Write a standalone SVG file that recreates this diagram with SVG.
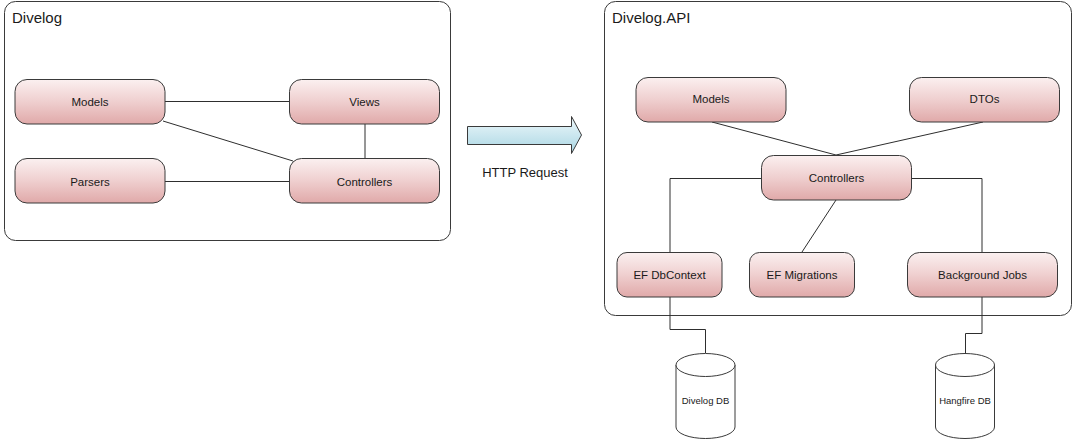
<svg xmlns="http://www.w3.org/2000/svg" width="1076" height="440" viewBox="0 0 1076 440">
  <defs>
    <linearGradient id="nodeFill" x1="0" y1="0" x2="0" y2="1">
      <stop offset="0" stop-color="#fbf0f0"/>
      <stop offset="0.5" stop-color="#efcfcf"/>
      <stop offset="1" stop-color="#e0a9a9"/>
    </linearGradient>
    <linearGradient id="arrowFill" x1="0" y1="0" x2="0" y2="1">
      <stop offset="0" stop-color="#eef8fb"/>
      <stop offset="1" stop-color="#a9d6e3"/>
    </linearGradient>
    <style>
      .frame { fill: #ffffff; stroke: #3a3a3a; stroke-width: 1; }
      .node rect { fill: url(#nodeFill); stroke: #3a3a3a; stroke-width: 1; }
      .node text { font-family: "Liberation Sans", Arial, sans-serif; font-size: 11.5px; fill: #1a1a1a; text-anchor: middle; }
      .label { font-family: "Liberation Sans", Arial, sans-serif; font-size: 13px; fill: #1a1a1a; text-anchor: middle; }
      .title { font-family: "Liberation Sans", Arial, sans-serif; font-size: 15px; fill: #1a1a1a; }
      .db path, .db ellipse { fill: #ffffff; stroke: #3a3a3a; stroke-width: 1; }
      .db text { font-family: "Liberation Sans", Arial, sans-serif; font-size: 9.5px; fill: #1a1a1a; text-anchor: middle; }
      .wire { fill: none; stroke: #2e2e2e; stroke-width: 1; }
    </style>
  </defs>

  <rect width="1076" height="440" fill="#ffffff"/>

  <!-- Client application container -->
  <g id="divelog">
    <rect class="frame" x="4.5" y="1.5" width="446" height="239" rx="11"/>
    <text class="title" x="12" y="23">Divelog</text>
  </g>

  <!-- API container -->
  <g id="divelog-api">
    <rect class="frame" x="604.5" y="1.5" width="467" height="314" rx="11"/>
    <text class="title" x="612" y="23">Divelog.API</text>
  </g>

  <!-- Connectors -->
  <g id="connectors">
    <line class="wire" x1="165" y1="101.5" x2="289" y2="101.5"/>
    <line class="wire" x1="163" y1="121" x2="293" y2="161"/>
    <line class="wire" x1="365" y1="124" x2="365" y2="158"/>
    <line class="wire" x1="165" y1="181.5" x2="289" y2="181.5"/>

    <line class="wire" x1="712" y1="122" x2="836" y2="155"/>
    <line class="wire" x1="983" y1="122" x2="836" y2="155"/>
    <polyline class="wire" points="761,178.5 670,178.5 670,252"/>
    <polyline class="wire" points="912,178.5 982,178.5 982,252"/>
    <line class="wire" x1="836" y1="200" x2="802" y2="252"/>
    <polyline class="wire" points="670,297 670,329.5 705.5,329.5 705.5,353"/>
    <polyline class="wire" points="982,297 982,333.5 965.5,333.5 965.5,353"/>
  </g>

  <!-- Request arrow -->
  <g id="http-request">
    <polygon points="467.5,126.5 571.5,126.5 571.5,116.5 581.5,135 571.5,153.5 571.5,144.5 467.5,144.5" fill="url(#arrowFill)" stroke="#3a3a3a" stroke-width="1"/>
    <text class="label" x="525" y="177">HTTP Request</text>
  </g>

  <!-- Client nodes -->
  <g id="client-models" class="node">
    <rect x="15" y="79.5" width="150" height="44.5" rx="12"/>
    <text x="90" y="105.5">Models</text>
  </g>
  <g id="client-views" class="node">
    <rect x="289.5" y="79.5" width="150" height="44.5" rx="12"/>
    <text x="364.5" y="105.5">Views</text>
  </g>
  <g id="client-parsers" class="node">
    <rect x="15" y="158.5" width="150" height="44.5" rx="12"/>
    <text x="90" y="185.5">Parsers</text>
  </g>
  <g id="client-controllers" class="node">
    <rect x="289.5" y="158.5" width="150" height="44.5" rx="12"/>
    <text x="364.5" y="185.5">Controllers</text>
  </g>

  <!-- API nodes -->
  <g id="api-models" class="node">
    <rect x="636" y="77.5" width="150" height="44.5" rx="12"/>
    <text x="711" y="103">Models</text>
  </g>
  <g id="api-dtos" class="node">
    <rect x="909.5" y="77.5" width="150" height="44.5" rx="12"/>
    <text x="984.5" y="103">DTOs</text>
  </g>
  <g id="api-controllers" class="node">
    <rect x="761.5" y="155.5" width="150" height="44.5" rx="12"/>
    <text x="836.5" y="182">Controllers</text>
  </g>
  <g id="api-dbcontext" class="node">
    <rect x="617" y="252.5" width="105" height="44.5" rx="10"/>
    <text x="669.5" y="279">EF DbContext</text>
  </g>
  <g id="api-migrations" class="node">
    <rect x="749.5" y="252.5" width="105" height="44.5" rx="10"/>
    <text x="802" y="279">EF Migrations</text>
  </g>
  <g id="api-jobs" class="node">
    <rect x="907.5" y="252.5" width="150" height="44.5" rx="12"/>
    <text x="982.5" y="279">Background Jobs</text>
  </g>

  <!-- Databases -->
  <g id="divelog-db" class="db">
    <path d="M676,365 L676,427 A29.5,11.5 0 0 0 735,427 L735,365"/>
    <ellipse cx="705.5" cy="365" rx="29.5" ry="11.5"/>
    <text x="705.5" y="404">Divelog DB</text>
  </g>
  <g id="hangfire-db" class="db">
    <path d="M935.5,365 L935.5,427 A29.5,11.5 0 0 0 994.5,427 L994.5,365"/>
    <ellipse cx="965" cy="365" rx="29.5" ry="11.5"/>
    <text x="965" y="404">Hangfire DB</text>
  </g>
</svg>
